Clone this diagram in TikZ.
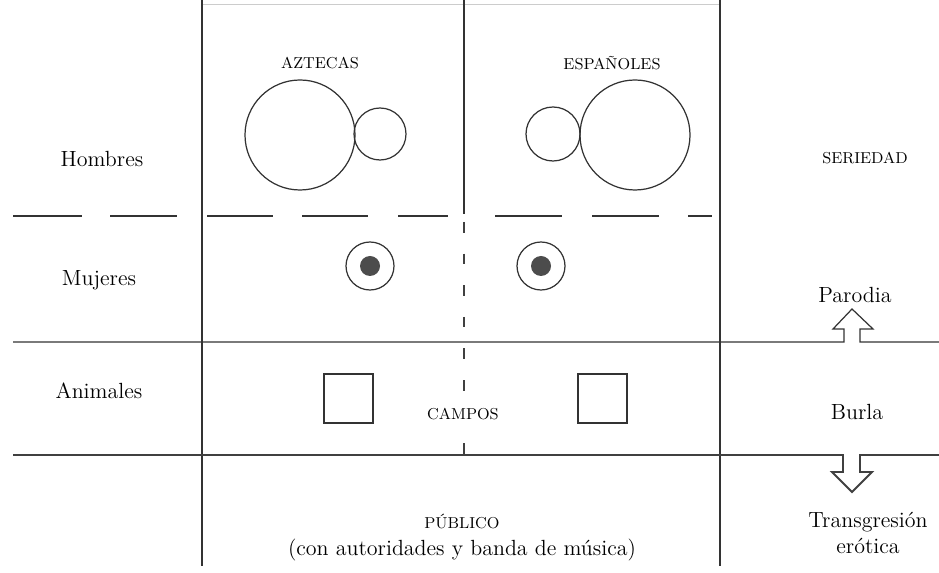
\documentclass[tikz,border=0pt]{standalone}
\usepackage{tikz}
\usetikzlibrary{calc}
\tikzset{
  rowtext/.style={font=\fontsize{12.5}{15}\selectfont},
  smallcaps/.style={font=\fontsize{9}{11}\selectfont},
  rule/.style={line width=0.7pt, color=black!80},
}
\begin{document}
\begin{tikzpicture}[x=0.02cm, y=-0.02cm]
		%%%%% START %%%%%
		\useasboundingbox (0,0) rectangle (939,573);
		
		\draw[line width=0.3pt, color=black!20] (202, 4) -- (720, 4);
		\draw[rule] (202, 0) -- (202, 566);
		\draw[rule] (720, 0) -- (720, 566);
		\draw[rule] (464, 0) -- (464, 214);
		\draw[line width=1pt, color=black!75, dash pattern=on 6pt off 12pt] (464, 222) -- (464, 455);
		
		\foreach \a/\b in {13/82, 110/177, 207/273, 302/368, 398/448, 495/562, 592/659, 688/712}
			\draw[line width=0.8pt, color=black!80] (\a, 216) -- (\b, 216);
		
		\draw[rule] (13, 342) -- (844, 342) -- (844, 329) -- (833, 329) -- (852, 309)
			-- (873, 329) -- (860, 329) -- (860, 342) -- (939, 342);
		\draw[line width=1.1pt, color=black!75] (13, 455) -- (843, 455) -- (843, 472) -- (832, 472) -- (852, 492)
			-- (872, 472) -- (860, 472) -- (860, 455) -- (939, 455);
		
		\draw[rule] (300, 135) circle (55);
		\draw[rule] (380, 134) circle (26);
		\draw[rule] (553, 134) circle (27);
		\draw[rule] (635, 135) circle (55);
		
		\draw[rule] (370, 266) circle (24);
		\fill[black!70] (370, 266) circle (10);
		\draw[rule] (541, 266) circle (24);
		\fill[black!70] (541, 266) circle (10);
		
		\draw[rule] (324, 374) rectangle (373, 423);
		\draw[rule] (578, 374) rectangle (627, 423);
		
		\node[smallcaps] (aztecas) at (320, 63) {AZTECAS};
		\node[smallcaps] (espanoles) at (612, 63) {ESPAÑOLES};
		\node[smallcaps, fill=white, inner sep=4pt] (campos) at (463, 414) {CAMPOS};
		\node[smallcaps] (publico) at (462, 521) {PÚBLICO};
		\node[smallcaps] (seriedad) at (865, 158) {SERIEDAD};
		
		\node[rowtext] (hombres) at (102, 159) {Hombres};
		\node[rowtext] (mujeres) at (99, 280) {Mujeres};
		\node[rowtext] (animales) at (99, 391) {Animales};
		\node[rowtext] (parodia) at (855, 295) {Parodia};
		\node[rowtext] (burla) at (857, 412) {Burla};
		\node[rowtext] (autoridades) at (462, 550) {(con autoridades y banda de música)};
		\node[rowtext, align=center] (transgresion) at (868, 533) {Transgresión\\erótica};
		
		%%%%% END %%%%%
\end{tikzpicture}
\end{document}
